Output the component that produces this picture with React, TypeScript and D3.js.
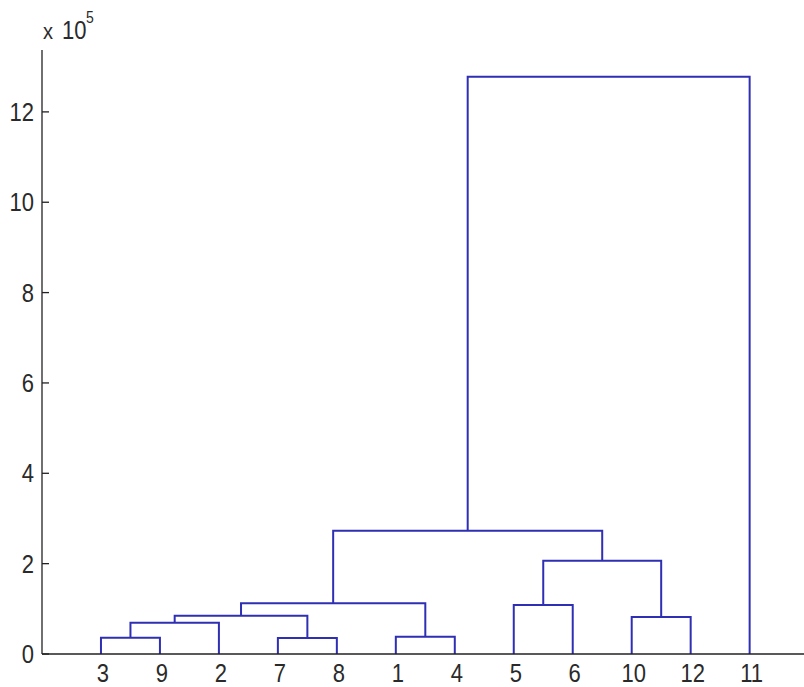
import React, { useMemo } from "react";
import * as d3 from "d3";

// Leaf observations 1..12 and the merge steps of the hierarchical clustering.
// Each merge joins two nodes (leaf ids 1..12, cluster ids 13..23) at a
// linkage distance given in units of 10^5.
const leafIds = [1, 2, 3, 4, 5, 6, 7, 8, 9, 10, 11, 12];
const mergeLeft = [3, 7, 1, 13, 10, 16, 5, 18, 19, 20, 22];
const mergeRight = [9, 8, 4, 2, 12, 14, 6, 15, 17, 21, 11];
const mergeHeight = [0.36, 0.354, 0.383, 0.693, 0.819, 0.848, 1.085, 1.122, 2.066, 2.73, 12.78];

const yTicks = [0, 2, 4, 6, 8, 10, 12];
const yMax = 13.37;
const exponentLabel = "5";

const W = 804;
const H = 687;
const FONT = "'Liberation Sans', Arial, Helvetica, sans-serif";
const LINK_COLOR = "#2f2fb3";
const AXIS_COLOR = "#222";
const TEXT_COLOR = "#2a2a2a";
const FS = 22;
const STRETCH = 1.13;

// text drawn with a slight vertical stretch, anchored at its baseline
function Label(props: { x: number; y: number; anchor: string; size?: number; children: React.ReactNode }) {
  const { x, y, anchor, size = FS, children } = props;
  return (
    <text
      transform={`translate(${x},${y}) scale(1,${STRETCH})`}
      textAnchor={anchor}
      fontSize={size}
      fill={TEXT_COLOR}
    >
      {children}
    </text>
  );
}

export default function App() {
  const { leafOrder, segments, xScale, yScale } = useMemo(() => {
    const n = leafIds.length;
    const children = new Map<number, [number, number]>();
    const height = new Map<number, number>();
    leafIds.forEach((id) => height.set(id, 0));
    mergeLeft.forEach((l, i) => {
      const id = n + 1 + i;
      children.set(id, [l, mergeRight[i]]);
      height.set(id, mergeHeight[i]);
    });
    const root = n + mergeLeft.length;

    // left-to-right leaf order from a depth-first walk
    const order: number[] = [];
    const walk = (id: number) => {
      const c = children.get(id);
      if (!c) {
        order.push(id);
        return;
      }
      walk(c[0]);
      walk(c[1]);
    };
    walk(root);

    const xs = d3.scaleLinear().domain([0, n + 1]).range([42, 42 + (n + 1) * 58.97]);
    const ys = d3.scaleLinear().domain([0, yMax]).range([654, 50]);

    const pos = new Map<number, number>();
    order.forEach((id, i) => pos.set(id, i + 1));
    const segs: { l: number; r: number; hl: number; hr: number; h: number }[] = [];
    const place = (id: number): number => {
      if (pos.has(id)) return pos.get(id)!;
      const [a, b] = children.get(id)!;
      const pa = place(a);
      const pb = place(b);
      segs.push({ l: pa, r: pb, hl: height.get(a)!, hr: height.get(b)!, h: height.get(id)! });
      const p = (pa + pb) / 2;
      pos.set(id, p);
      return p;
    };
    place(root);

    return { leafOrder: order, segments: segs, xScale: xs, yScale: ys };
  }, []);

  const x0 = xScale(0);
  const y0 = yScale(0);

  return (
    <svg
      width={W}
      height={H}
      style={{ position: "absolute", left: 0, top: 0, background: "#fff" }}
      fontFamily={FONT}
    >
      <rect x={0} y={0} width={W} height={H} fill="#fff" />

      {/* dendrogram links */}
      <g fill="none" stroke={LINK_COLOR} strokeWidth={2}>
        {segments.map((s, i) => (
          <path
            key={i}
            d={`M${xScale(s.l)},${yScale(s.hl)}V${yScale(s.h)}H${xScale(s.r)}V${yScale(s.hr)}`}
          />
        ))}
      </g>

      {/* axes */}
      <g stroke={AXIS_COLOR} strokeWidth={1.3}>
        <line x1={x0} x2={x0} y1={yScale(yMax)} y2={y0} />
        <line x1={x0} x2={xScale(13)} y1={y0} y2={y0} />
        {yTicks.map((t) => (
          <line key={t} x1={x0} x2={x0 + 7} y1={yScale(t)} y2={yScale(t)} />
        ))}
      </g>

      {/* y tick labels */}
      {yTicks.map((t) => (
        <Label key={t} x={x0 - 8} y={yScale(t) + 9} anchor="end">
          {t}
        </Label>
      ))}

      {/* leaf labels */}
      {leafOrder.map((id, i) => (
        <Label key={id} x={xScale(i + 1) + 2} y={682} anchor="middle">
          {id}
        </Label>
      ))}

      {/* scale factor */}
      <Label x={43} y={39} anchor="start" size={20}>
        x
      </Label>
      <Label x={62} y={39} anchor="start">
        10
      </Label>
      <Label x={86} y={23} anchor="start" size={14}>
        {exponentLabel}
      </Label>
    </svg>
  );
}
